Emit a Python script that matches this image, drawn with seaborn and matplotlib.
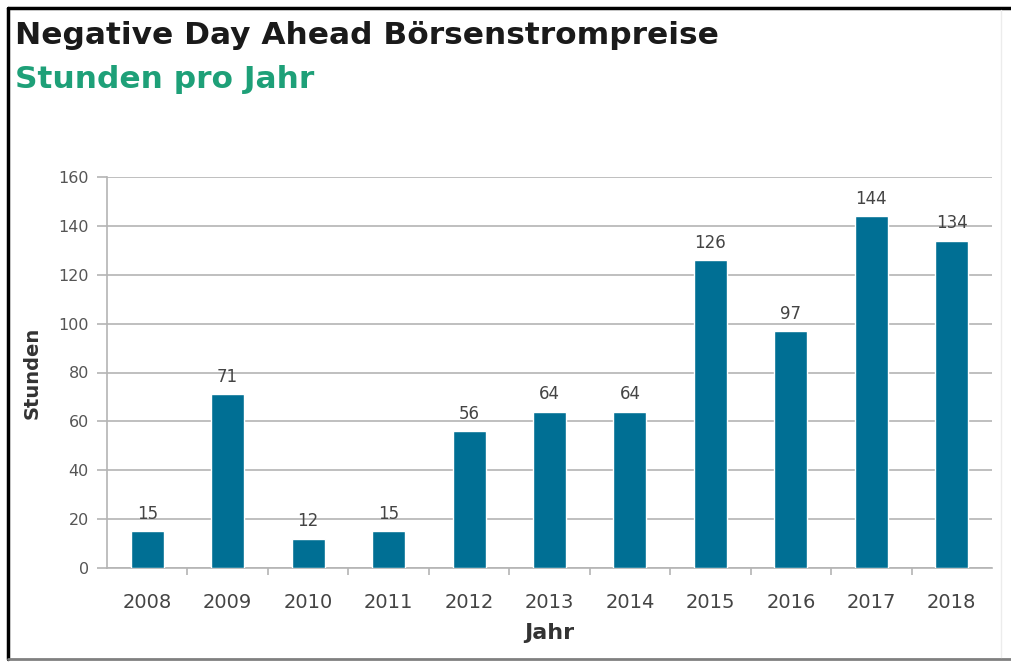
import matplotlib
matplotlib.use("Agg")
import matplotlib.pyplot as plt
import seaborn as sns
import pandas as pd
from matplotlib.lines import Line2D
from matplotlib.ticker import FixedLocator

years = ["2008", "2009", "2010", "2011", "2012", "2013", "2014", "2015", "2016", "2017", "2018"]
hours = [15, 71, 12, 15, 56, 64, 64, 126, 97, 144, 134]
yticks = [0, 20, 40, 60, 80, 100, 120, 140, 160]

df = pd.DataFrame({"Jahr": years, "Stunden": hours})

sns.set_theme(style="white")
plt.rcParams["font.family"] = ["DejaVu Sans"]

W, H = 1012, 662
fig = plt.figure(figsize=(W / 100, H / 100), dpi=100)
fig.patch.set_facecolor("white")

ax = fig.add_axes([107 / W, 1 - 568 / H, (992 - 107) / W, (568 - 177) / H])
sns.barplot(data=df, x="Jahr", y="Stunden", color="#006f94", saturation=1,
            width=0.41, ax=ax, zorder=3)

ax.set_xlim(-0.5, len(years) - 0.5)
ax.set_ylim(0, 160)
ax.set_yticks(yticks)
ax.yaxis.grid(True, color="#b4b4b4", linewidth=1.2, zorder=0)
ax.set_axisbelow(True)

for s in ["top", "right"]:
    ax.spines[s].set_visible(False)
for s in ["left", "bottom"]:
    ax.spines[s].set_color("#b4b4b4")
    ax.spines[s].set_linewidth(1.2)

ax.tick_params(axis="y", which="major", left=True, length=7, width=1.2,
               color="#b4b4b4", labelsize=11.5, labelcolor="#555555", pad=6)
ax.tick_params(axis="x", which="major", bottom=False, labelsize=14,
               labelcolor="#444444", pad=12)
ax.xaxis.set_minor_locator(FixedLocator([i + 0.5 for i in range(len(years) - 1)]))
ax.tick_params(axis="x", which="minor", bottom=True, length=5, width=1.2,
               color="#b4b4b4")

ax.set_ylabel("Stunden", fontsize=14, fontweight="bold", color="#333333", labelpad=12)
ax.set_xlabel("Jahr", fontsize=16, fontweight="bold", color="#333333", labelpad=8)

for cont in ax.containers:
    ax.bar_label(cont, labels=[str(v) for v in hours], padding=6,
                 fontsize=12, color="#444444")

fig.text(15 / W, 1 - 36 / H, "Negative Day Ahead Börsenstrompreise", fontsize=22.5,
         fontweight="bold", color="#1a1a1a", va="center", ha="left")
fig.text(15 / W, 1 - 79 / H, "Stunden pro Jahr", fontsize=22.5,
         fontweight="bold", color="#1ea078", va="center", ha="left")

# frame
fig.add_artist(Line2D([8 / W, 1], [1 - 8 / H, 1 - 8 / H], transform=fig.transFigure,
                      color="black", linewidth=2.5))
fig.add_artist(Line2D([8 / W, 8 / W], [1 - 8 / H, 1 - 659 / H], transform=fig.transFigure,
                      color="black", linewidth=2.5))
fig.add_artist(Line2D([8 / W, 1], [1 - 659 / H, 1 - 659 / H], transform=fig.transFigure,
                      color="#808080", linewidth=2))
fig.add_artist(Line2D([1001 / W, 1001 / W], [1 - 10 / H, 1 - 657 / H], transform=fig.transFigure,
                      color="#ececec", linewidth=1))

fig.savefig("out.png", dpi=100, facecolor="white")
